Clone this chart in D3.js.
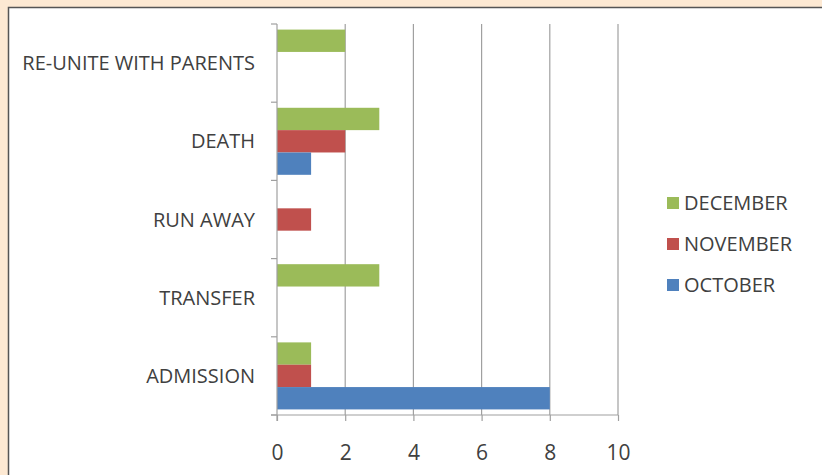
<!DOCTYPE html>
<html lang="en">
<head>
  <meta charset="UTF-8">
  <title>Bar Chart</title>
  <script src="https://cdn.jsdelivr.net/npm/d3@7"></script>
  <style>
    body { margin: 0; }
    svg { display: block; }
  </style>
</head>
<body>
<svg></svg>
<script>
  const width = 822, height = 475
  const margin = {top: 24, right: 204, bottom: 60, left: 277}

  const categories = ['ADMISSION', 'TRANSFER', 'RUN AWAY', 'DEATH', 'RE-UNITE WITH PARENTS']
  const months = ['DECEMBER', 'NOVEMBER', 'OCTOBER']
  const colors = ['#9bbb59', '#c0504d', '#4f81bd']
  const december = [1, 3, 0, 3, 2]
  const november = [1, 0, 1, 2, 0]
  const october = [8, 0, 0, 1, 0]
  const xTicks = [0, 2, 4, 6, 8, 10]

  const series = [december, november, october]
  const data = categories.map((c, i) => ({
    category: c,
    values: months.map((m, j) => ({month: m, value: series[j][i], color: colors[j]}))
  }))

  const font = '"Open Sans", sans-serif'
  const svg = d3.select('svg')
      .attr('width', width)
      .attr('height', height)
      .style('font-family', font)

  // cream frame + white panel
  svg.append('rect').attr('width', width).attr('height', height).attr('fill', '#fde9d3')
  svg.append('rect')
      .attr('x', 8.5).attr('y', 7.5)
      .attr('width', width + 10).attr('height', height + 10)
      .attr('fill', '#fff')
      .attr('stroke', '#555').attr('stroke-width', 1.5)

  const x = d3.scaleLinear()
      .domain([0, 10])
      .range([margin.left, width - margin.right])

  // bottom-to-top order
  const y = d3.scaleBand()
      .domain(categories.slice().reverse())
      .range([margin.top, height - margin.bottom])
      .paddingInner(0)

  const y1 = d3.scaleBand()
      .domain(months)
      .range([0, y.bandwidth()])
      .paddingOuter(0.25)

  // gridlines
  svg.append('g')
      .selectAll('line')
      .data(xTicks.slice(1))
      .join('line')
      .attr('x1', d => x(d)).attr('x2', d => x(d))
      .attr('y1', margin.top).attr('y2', height - margin.bottom)
      .attr('stroke', '#a0a0a0').attr('stroke-width', 1.2)

  // bars
  svg.append('g')
      .selectAll('g')
      .data(data)
      .join('g')
      .attr('transform', d => `translate(0,${y(d.category)})`)
      .selectAll('rect')
      .data(d => d.values.filter(v => v.value > 0))
      .join('rect')
      .attr('x', x(0))
      .attr('y', d => y1(d.month))
      .attr('width', d => x(d.value) - x(0))
      .attr('height', y1.bandwidth())
      .attr('fill', d => d.color)

  // x axis
  svg.append('g')
      .attr('transform', `translate(0,${height - margin.bottom})`)
      .call(d3.axisBottom(x).tickValues(xTicks).tickSize(6).tickSizeOuter(0).tickPadding(24))
      .call(g => g.select('.domain').attr('stroke', '#a0a0a0').attr('stroke-width', 1.2)
          .attr('d', `M${x(0) - 6},0H${x(10)}`))
      .call(g => g.selectAll('.tick line').attr('stroke', '#a0a0a0').attr('stroke-width', 1.2))
      .call(g => g.selectAll('.tick text').attr('fill', '#404040').attr('font-size', 21)
          .attr('font-family', font))

  // y axis
  const yTickPos = d3.range(categories.length + 1).map(i => margin.top + i * y.step())
  const yAxis = svg.append('g')
  yAxis.append('line')
      .attr('x1', x(0)).attr('x2', x(0))
      .attr('y1', margin.top).attr('y2', height - margin.bottom + 6)
      .attr('stroke', '#a0a0a0').attr('stroke-width', 1.2)
  yAxis.selectAll('.yt')
      .data(yTickPos)
      .join('line')
      .attr('class', 'yt')
      .attr('x1', x(0) - 6).attr('x2', x(0))
      .attr('y1', d => d).attr('y2', d => d)
      .attr('stroke', '#a0a0a0').attr('stroke-width', 1.2)
  yAxis.selectAll('text')
      .data(categories)
      .join('text')
      .attr('x', x(0) - 22)
      .attr('y', d => y(d) + y.bandwidth() / 2)
      .attr('dy', '0.35em')
      .attr('text-anchor', 'end')
      .attr('fill', '#404040')
      .attr('font-size', 20)
      .text(d => d)

  // legend
  const legend = svg.append('g')
      .selectAll('g')
      .data(months)
      .join('g')
      .attr('transform', (d, i) => `translate(667,${203 + i * 41})`)
  legend.append('rect')
      .attr('x', 0).attr('y', -6)
      .attr('width', 12).attr('height', 12)
      .attr('fill', (d, i) => colors[i])
  legend.append('text')
      .attr('x', 17).attr('dy', '0.35em')
      .attr('fill', '#404040')
      .attr('font-size', 20)
      .text(d => d)
</script>
</body>
</html>
